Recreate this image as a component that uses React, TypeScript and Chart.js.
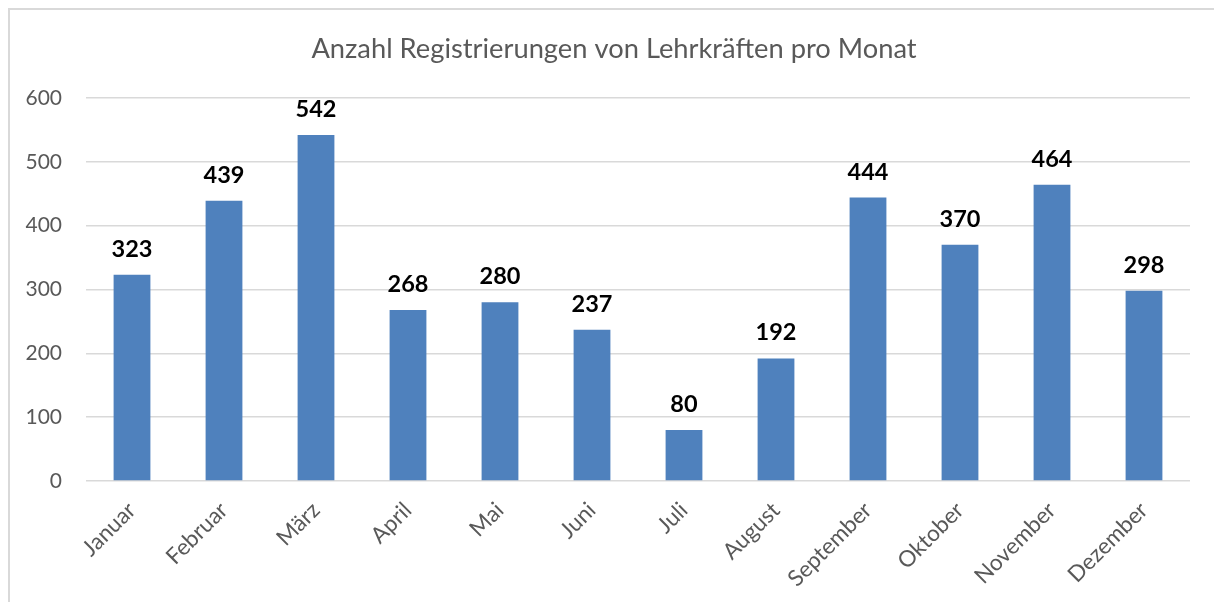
import React, { useEffect, useRef } from "react";
import { Chart, registerables } from "chart.js";

Chart.register(...registerables);

const categories = ["Januar", "Februar", "März", "April", "Mai", "Juni", "Juli", "August", "September", "Oktober", "November", "Dezember"];
const registrations = [323, 439, 542, 268, 280, 237, 80, 192, 444, 370, 464, 298];
const titleText = "Anzahl Registrierungen von Lehrkräften pro Monat";

const FONT = "Lato, 'Open Sans', sans-serif";

const dataLabelPlugin = {
  id: "dataLabels",
  afterDatasetsDraw(chart: any) {
    const ctx = chart.ctx;
    const meta = chart.getDatasetMeta(0);
    const ds = chart.data.datasets[0];
    ctx.save();
    ctx.font = `bold 23.5px ${FONT}`;
    ctx.fillStyle = "#000000";
    ctx.textAlign = "center";
    ctx.textBaseline = "alphabetic";
    meta.data.forEach((bar: any, i: number) => {
      ctx.fillText(String(ds.data[i]), bar.x, bar.y - 18);
    });
    ctx.restore();
  },
};

const titlePlugin = {
  id: "centeredTitle",
  afterDraw(chart: any) {
    const ctx = chart.ctx;
    ctx.save();
    ctx.font = `27.3px ${FONT}`;
    ctx.fillStyle = "#595959";
    ctx.textAlign = "center";
    ctx.textBaseline = "alphabetic";
    ctx.fillText(titleText, 614, 58);
    ctx.restore();
  },
};

export default function App() {
  const ref = useRef<HTMLCanvasElement | null>(null);
  useEffect(() => {
    if (!ref.current) return;
    const chart = new Chart(ref.current, {
      type: "bar",
      data: {
        labels: categories,
        datasets: [
          {
            data: registrations,
            backgroundColor: "#4F81BD",
            borderWidth: 0,
            barPercentage: 0.4,
            categoryPercentage: 1,
          },
        ],
      },
      options: {
        animation: false,
        responsive: false,
        maintainAspectRatio: false,
        layout: { padding: { left: 10, right: 24, top: 98, bottom: 0 } },
        plugins: {
          legend: { display: false },
          tooltip: { enabled: false },
          title: { display: false },
        },
        scales: {
          x: {
            grid: { display: false },
            border: { display: false },
            ticks: {
              color: "#595959",
              font: { family: FONT, size: 22.5 },
              maxRotation: 45,
              minRotation: 45,
              padding: 8,
              autoSkip: false,
            },
            afterFit(scale: any) {
              scale.height = 121;
            },
          },
          y: {
            min: 0,
            max: 600,
            ticks: {
              stepSize: 100,
              color: "#595959",
              font: { family: FONT, size: 21 },
              padding: 24,
            },
            grid: {
              color: "#D9D9D9",
              lineWidth: 1.5,
              drawTicks: false,
            },
            border: { display: false },
            afterFit(scale: any) {
              scale.width = 76;
            },
          },
        },
      },
      plugins: [dataLabelPlugin, titlePlugin],
    });
    return () => chart.destroy();
  }, []);

  return (
    <div style={{ position: "fixed", left: 0, top: 0, width: 1214, height: 602, overflow: "hidden", background: "#fff" }}>
      <div
        style={{
          position: "absolute",
          left: 8,
          top: 8,
          width: 1260,
          height: 660,
          borderTop: "2px solid #D9D9D9",
          borderLeft: "2px solid #D9D9D9",
        }}
      />
      <canvas ref={ref} width={1214} height={602} style={{ position: "absolute", left: 0, top: 0 }} />
    </div>
  );
}
